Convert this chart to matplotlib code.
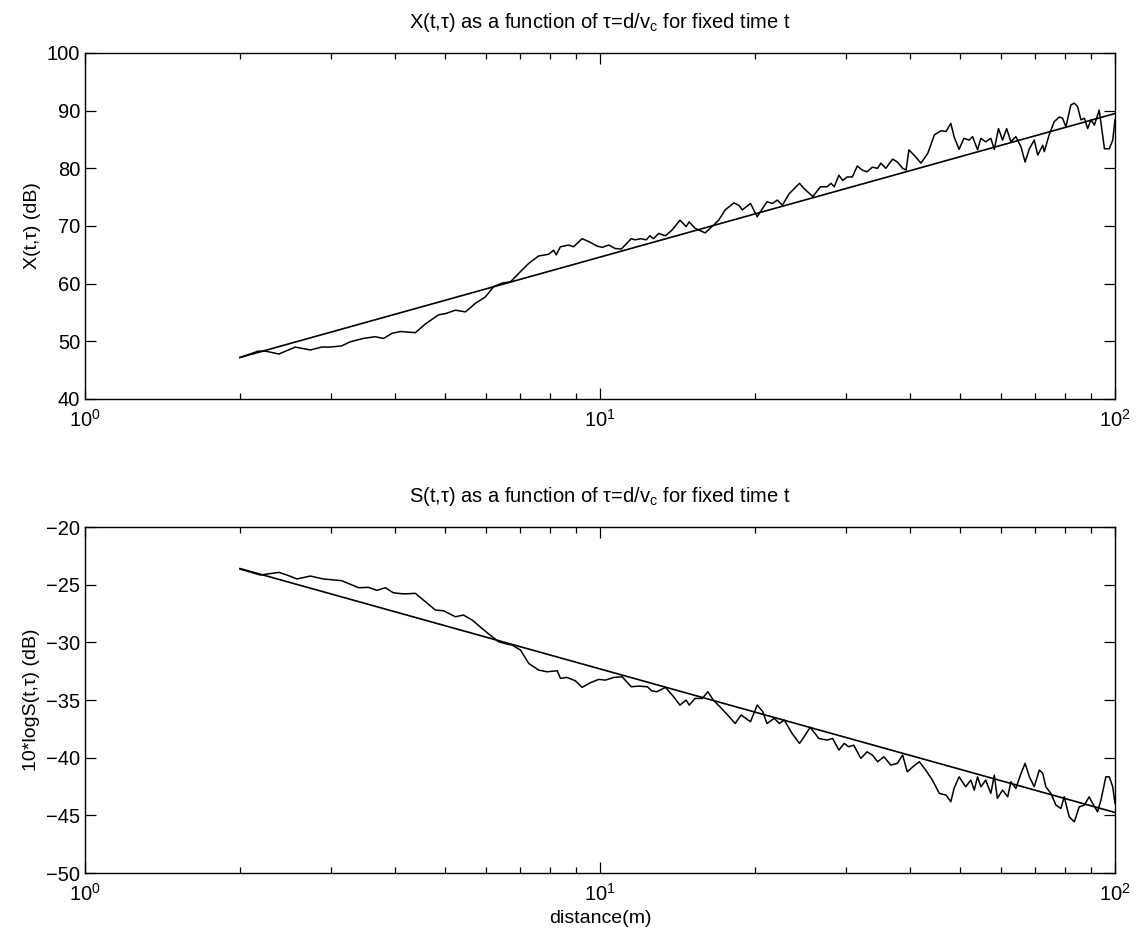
# X(t,tau) and S(t,tau) versus distance, two log-x panels
import numpy as np
import matplotlib
matplotlib.use("Agg")
import matplotlib.pyplot as plt
from matplotlib.ticker import LogLocator, NullFormatter

plt.rcParams['font.family'] = ['Liberation Sans', 'DejaVu Sans']
plt.rcParams['mathtext.fontset'] = 'custom'
plt.rcParams['mathtext.rm'] = 'Liberation Sans'
plt.rcParams['mathtext.default'] = 'regular'

# --- data ---
# top panel: measured X(t,tau) in dB
dist_x = [2.0, 2.17, 2.24, 2.38, 2.56, 2.74, 2.88, 2.99, 3.15, 3.27, 3.47, 3.66, 3.80,
          3.95, 4.10, 4.38, 4.58, 4.86, 5.01, 5.24, 5.48, 5.73, 5.99, 6.22, 6.46,
          6.70, 7.01, 7.27, 7.60, 7.95, 8.13, 8.22, 8.38, 8.69, 8.89, 9.23, 9.51,
          9.88, 10.1, 10.4, 10.7, 11.0, 11.5, 11.7, 12.0, 12.3, 12.5, 12.7, 13.0,
          13.4, 13.8, 14.3, 14.7, 14.9, 15.3, 16.0, 16.5, 17.0, 17.5, 18.2, 18.6,
          18.9, 19.6, 20.2, 20.5, 21.1, 21.6, 22.1, 22.6, 23.3, 24.4, 24.9, 25.9,
          26.8, 27.6, 28.1, 28.5, 29.1, 29.6, 30.2, 30.9, 31.6, 32.3, 33.0, 33.8,
          34.6, 35.1, 35.9, 37.0, 37.8, 38.7, 39.3, 39.8, 41.0, 42.0, 43.3, 44.6,
          45.9, 47.0, 48.0, 48.7, 49.8, 50.9, 52.1, 52.9, 54.1, 54.9, 56.1, 57.4,
          58.3, 59.4, 60.5, 61.6, 62.8, 64.2, 65.7, 66.9, 68.2, 69.7, 70.8, 72.4,
          72.9, 74.5, 76.2, 78.0, 79.1, 80.3, 82.1, 83.4, 84.6, 85.9, 87.2, 88.5,
          89.8, 91.2, 93.2, 95.4, 97.5, 99.0, 100.0]
x_db = [47.2, 48.3, 48.3, 47.8, 49.0, 48.5, 49.0, 49.0, 49.2, 49.9, 50.5, 50.8, 50.5,
        51.4, 51.7, 51.5, 53.0, 54.6, 54.8, 55.4, 55.1, 56.6, 57.7, 59.5, 60.1,
        60.3, 62.1, 63.5, 64.8, 65.1, 65.8, 65.0, 66.4, 66.7, 66.4, 67.8, 67.3,
        66.5, 66.3, 66.7, 66.1, 66.0, 67.8, 67.6, 67.8, 67.6, 68.3, 67.8, 68.7,
        68.3, 69.3, 71.0, 69.9, 70.7, 69.6, 68.8, 69.9, 71.0, 72.8, 74.0, 73.6,
        72.8, 73.9, 71.6, 72.5, 74.2, 73.9, 74.5, 73.6, 75.6, 77.4, 76.5, 75.1,
        76.8, 76.8, 77.4, 76.8, 78.8, 77.9, 78.5, 78.5, 80.4, 79.7, 79.4, 80.2,
        80.0, 80.9, 80.0, 81.6, 81.1, 80.0, 79.7, 83.2, 82.0, 80.9, 82.6, 85.8,
        86.5, 86.4, 87.8, 85.5, 83.3, 85.2, 84.9, 85.5, 83.2, 85.2, 84.6, 85.2,
        83.3, 86.9, 84.9, 86.9, 84.6, 85.5, 83.7, 81.1, 83.4, 84.9, 82.3, 84.0,
        82.9, 85.8, 88.1, 88.9, 88.7, 87.2, 91.0, 91.3, 90.7, 88.4, 88.7, 86.9,
        88.4, 87.5, 90.1, 83.4, 83.4, 84.9, 88.4]

# bottom panel: measured 10*log S(t,tau) in dB
dist_s = [2.0, 2.19, 2.24, 2.38, 2.48, 2.58, 2.74, 2.90, 3.15, 3.40, 3.55, 3.69, 3.83,
          3.97, 4.16, 4.38, 4.61, 4.79, 4.97, 5.24, 5.43, 5.65, 5.90, 6.17, 6.36,
          6.60, 6.75, 7.01, 7.27, 7.60, 7.89, 8.26, 8.38, 8.63, 8.96, 9.23, 9.58,
          9.94, 10.25, 10.64, 11.04, 11.5, 11.9, 12.36, 12.6, 12.9, 13.4, 13.9,
          14.3, 14.7, 14.9, 15.3, 15.8, 16.2, 16.6, 17.1, 17.7, 18.3, 18.8, 19.2,
          19.6, 20.2, 20.7, 21.1, 21.8, 22.3, 22.8, 23.6, 24.4, 24.9, 25.6, 26.6,
          27.6, 28.3, 29.1, 29.8, 30.4, 31.1, 32.1, 33.0, 33.8, 34.6, 35.6, 36.7,
          37.8, 38.7, 39.5, 40.5, 41.7, 42.9, 44.2, 45.6, 47.0, 48.0, 48.7, 49.8,
          51.3, 52.5, 53.3, 54.1, 54.9, 56.1, 57.4, 58.3, 59.1, 60.5, 61.9, 62.8,
          64.2, 65.7, 66.9, 68.2, 69.7, 71.3, 72.4, 73.4, 75.1, 76.8, 78.5, 79.7,
          81.5, 83.4, 85.2, 87.2, 89.1, 90.5, 92.5, 93.9, 96.0, 97.5, 99.0, 100.0]
s_db = [-23.64, -24.16, -24.1, -23.93, -24.2, -24.5, -24.25, -24.5, -24.65, -25.26,
        -25.23, -25.49, -25.26, -25.7, -25.8, -25.75, -26.57, -27.2, -27.26, -27.78,
        -27.63, -28.07, -28.79, -29.5, -29.95, -30.15, -30.23, -30.67, -31.82, -32.4,
        -32.55, -32.46, -33.12, -33.04, -33.33, -33.9, -33.5, -33.21, -33.27, -33.04,
        -32.98, -33.85, -33.79, -33.85, -34.2, -34.28, -33.9, -34.72, -35.44, -35.0,
        -35.44, -34.86, -34.86, -34.28, -35.0, -35.59, -36.3, -37.03, -36.3, -36.59,
        -36.88, -35.44, -36.0, -37.03, -36.59, -37.03, -36.74, -37.89, -38.76, -38.19,
        -37.37, -38.33, -38.47, -38.33, -39.34, -38.76, -39.05, -38.91, -40.06, -39.49,
        -39.77, -40.35, -39.92, -40.64, -40.49, -39.77, -41.22, -40.79, -40.35, -41.07,
        -41.94, -43.1, -43.24, -43.82, -42.66, -41.66, -42.52, -41.94, -42.81, -41.66,
        -42.52, -41.94, -43.1, -41.51, -43.53, -42.81, -43.39, -42.09, -42.66, -41.36,
        -40.49, -41.66, -42.52, -41.07, -41.36, -42.52, -43.1, -44.11, -44.4, -43.39,
        -45.13, -45.56, -44.26, -44.11, -43.39, -43.96, -44.69, -43.68, -41.66, -41.66,
        -42.52, -43.96]

# straight-line fits (end points)
fit_dist = [2.0, 100.0]
fit_x = [47.2, 89.5]
fit_s = [-23.6, -44.75]

fig = plt.figure(figsize=(11.36, 9.43), dpi=100)
ax1 = fig.add_axes([0.0748, 0.5769, 0.9067, 0.3669])
ax2 = fig.add_axes([0.0748, 0.0742, 0.9067, 0.3669])

def style(ax):
    ax.set_xscale('log')
    ax.set_xlim(1, 100)
    ax.xaxis.set_major_locator(LogLocator(base=10, numticks=5))
    ax.xaxis.set_minor_locator(LogLocator(base=10, subs=np.arange(2, 10), numticks=20))
    ax.xaxis.set_minor_formatter(NullFormatter())
    ax.tick_params(which='both', direction='in', top=True, right=True,
                   labelsize=14.5, width=0.9)
    ax.tick_params(which='major', length=8)
    ax.tick_params(which='minor', length=4)
    ax.tick_params(axis='x', which='major', pad=7)
    for s in ax.spines.values():
        s.set_linewidth(1.0)

ax1.plot(dist_x, x_db, color='black', lw=1.1)
ax1.plot(fit_dist, fit_x, color='black', lw=1.2)
style(ax1)
ax1.set_ylim(40, 100)
ax1.set_yticks(np.arange(40, 101, 10))
ax1.set_ylabel('X(t,τ) (dB)', fontsize=14)
ax1.set_title('X(t,τ) as a function of τ=d/v$_\\mathrm{c}$ for fixed time t',
              fontsize=14.5, pad=18)

ax2.plot(dist_s, s_db, color='black', lw=1.1)
ax2.plot(fit_dist, fit_s, color='black', lw=1.2)
style(ax2)
ax2.set_ylim(-50, -20)
ax2.set_yticks(np.arange(-50, -19, 5))
ax2.set_ylabel('10*logS(t,τ) (dB)', fontsize=14)
ax2.set_xlabel('distance(m)', fontsize=14)
ax2.set_title('S(t,τ) as a function of τ=d/v$_\\mathrm{c}$ for fixed time t',
              fontsize=14.5, pad=18)

fig.savefig('out.png', dpi=100)
